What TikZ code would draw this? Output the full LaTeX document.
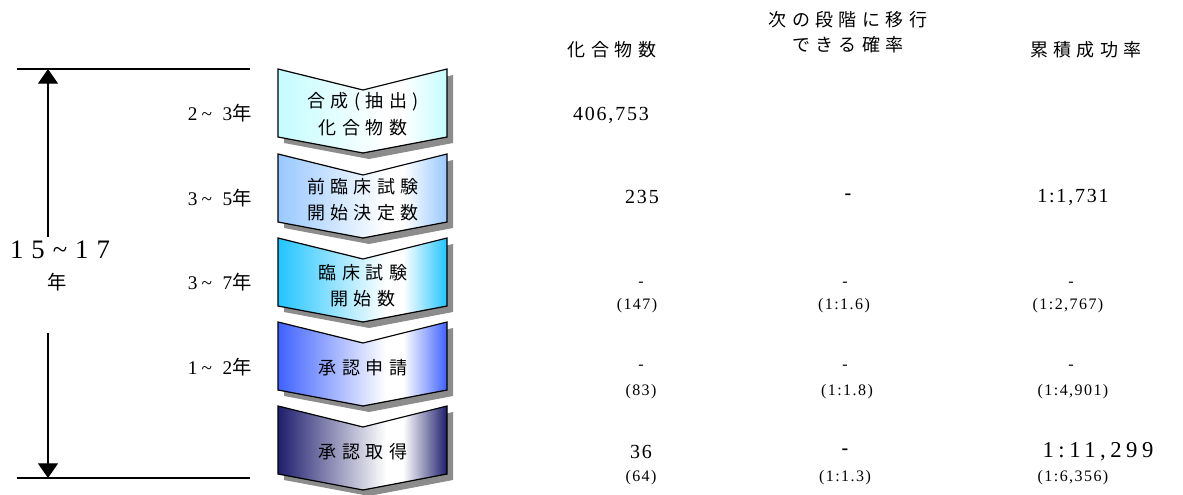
\documentclass[tikz,border=0pt]{standalone}
\usepackage{fontspec}
\setmainfont{Liberation Serif}
\newfontfamily\jpfont[LetterSpace=30]{Noto Sans CJK JP}
\newfontfamily\jpplain{Noto Sans CJK JP}
\newfontfamily\numfont[LetterSpace=9]{Liberation Serif}
\newfontfamily\numwide[LetterSpace=20]{Liberation Serif}
\newfontfamily\numhuge[LetterSpace=30]{Liberation Serif}
\usetikzlibrary{arrows.meta,calc}
\definecolor{cA}{HTML}{C4FCFF}
\definecolor{cB}{HTML}{99C8FF}
\definecolor{cC}{HTML}{22C4FF}
\definecolor{cD}{HTML}{3F62FF}
\definecolor{cE}{HTML}{1E1E6E}
\definecolor{shadowgray}{HTML}{8C8C8C}
\colorlet{chevc}{cA}
\pgfdeclarehorizontalshading[chevc]{chevshade}{100bp}{color(0bp)=(chevc); color(25bp)=(chevc); color(57bp)=(white); color(62bp)=(white); color(75bp)=(chevc); color(100bp)=(chevc)}
\newcommand\mkchev[2]{%
  \colorlet{chevc}{#2}%
  \begin{scope}[shift={(0,#1)}]
    \fill[shadowgray] (284,6) -- (369,27) -- (453,6) -- (453,74) -- (369,90) -- (284,74) -- cycle;
    \shade[shading=chevshade, draw=black, line width=0.9pt, line join=miter]
      (278,0) -- (363,21) -- (447,0) -- (447,68) -- (363,84) -- (278,68) -- cycle;
  \end{scope}}
\begin{document}
\begin{tikzpicture}[x=0.75pt,y=-0.75pt,
  jptxt/.style={font=\fontsize{13.5pt}{16pt}\jpfont, inner sep=0pt},
  yrtxt/.style={font=\fontsize{14.5pt}{16pt}\selectfont, inner sep=0pt, anchor=east},
  bignum/.style={font=\fontsize{15pt}{17pt}\numfont, inner sep=0pt},
  smallnum/.style={font=\fontsize{12pt}{14pt}\numfont, inner sep=0pt},
  bigdash/.style={font=\fontsize{15pt}{16pt}\bfseries, inner sep=0pt},
  smalldash/.style={font=\fontsize{12pt}{14pt}\selectfont, inner sep=0pt},
  rule/.style={line width=0.9pt},
  timearrow/.style={line width=0.9pt, -{Triangle[width=15pt,length=11pt]}}]
\useasboundingbox (0,0) rectangle (1183,495);

% chevrons
\mkchev{69}{cA}
\mkchev{154}{cB}
\mkchev{238}{cC}
\mkchev{322}{cD}
\mkchev{406}{cE}

\node[jptxt] (s1a) at (363,102) {合成(抽出)};
\node[jptxt] (s1b) at (363,128) {化合物数};
\node[jptxt] (s2a) at (363,187) {前臨床試験};
\node[jptxt] (s2b) at (363,213) {開始決定数};
\node[jptxt] (s3a) at (363,273) {臨床試験};
\node[jptxt] (s3b) at (363,299) {開始数};
\node[jptxt] (s4) at (363,368) {承認申請};
\node[jptxt] (s5) at (363,452) {承認取得};

% left time bracket
\coordinate (tl) at (17,69);
\coordinate (tr) at (250,69);
\coordinate (bl) at (17,478);
\coordinate (br) at (250,478);
\coordinate (ttip) at (48,69);
\coordinate (btip) at (48,478);
\coordinate (ustart) at (48,237);
\coordinate (dstart) at (48,333);
\draw[rule] (tl) -- (tr);
\draw[rule] (bl) -- (br);
\draw[timearrow] (ustart) -- (ttip);
\draw[timearrow] (dstart) -- (btip);
\node[font=\fontsize{20pt}{22pt}\numhuge, inner sep=0pt] (tot) at (60,250) {15\textasciitilde17};
\node[font=\fontsize{14.5pt}{16pt}\jpplain, inner sep=0pt] (totyr) at (57,282) {年};

\node[yrtxt] (y1) at (252,113) {2\hspace{3pt}\textasciitilde\hspace{8pt}3{\jpplain 年}};
\node[yrtxt] (y2) at (252,198) {3\hspace{3pt}\textasciitilde\hspace{8pt}5{\jpplain 年}};
\node[yrtxt] (y3) at (252,282) {3\hspace{3pt}\textasciitilde\hspace{8pt}7{\jpplain 年}};
\node[yrtxt] (y4) at (252,367) {1\hspace{3pt}\textasciitilde\hspace{8pt}2{\jpplain 年}};

% headers
\node[jptxt] (h1) at (612,50) {化合物数};
\node[jptxt] (h2a) at (848,20) {次の段階に移行};
\node[jptxt] (h2b) at (848,45) {できる確率};
\node[jptxt] (h3) at (1086,50) {累積成功率};

% values
\node[bignum] (v11) at (611,115) {406,753};
\node[bignum] (v21) at (642,197) {235};
\node[bigdash] (v22) at (848,197) {-};
\node[bignum] (v23) at (1073,197) {1:1,731};

\node[smalldash] (v31) at (641,284) {-};
\node[smallnum] (v31b) at (637,306) {(147)};
\node[smalldash] (v32) at (845,284) {-};
\node[smallnum] (v32b) at (844,306) {(1:1.6)};
\node[smalldash] (v33) at (1071,284) {-};
\node[smallnum] (v33b) at (1068,306) {(1:2,767)};

\node[smalldash] (v41) at (641,367) {-};
\node[smallnum] (v41b) at (641,392) {(83)};
\node[smalldash] (v42) at (845,367) {-};
\node[smallnum] (v42b) at (847,392) {(1:1.8)};
\node[smalldash] (v43) at (1071,367) {-};
\node[smallnum] (v43b) at (1073,392) {(1:4,901)};

\node[bignum] (v51) at (641,452) {36};
\node[smallnum] (v51b) at (641,478) {(64)};
\node[bigdash] (v52) at (845,452) {-};
\node[smallnum] (v52b) at (845,478) {(1:1.3)};
\node[font=\fontsize{17pt}{19pt}\numwide, inner sep=0pt] (v53) at (1098,452) {1:11,299};
\node[smallnum] (v53b) at (1073,478) {(1:6,356)};
\end{tikzpicture}
\end{document}
